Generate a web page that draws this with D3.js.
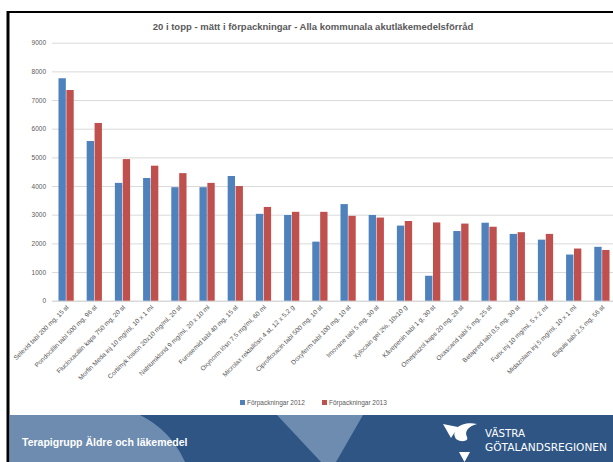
<!DOCTYPE html>
<html>
<head>
<meta charset="utf-8">
<script src="https://cdn.jsdelivr.net/npm/d3@7"></script>
<style>
  body { margin: 0; background: #fff; }
  svg { display: block; }
</style>
</head>
<body>
<svg id="chart" width="613" height="462"></svg>
<script>
// 20 i topp - staplar per läkemedel, 2012 mot 2013

const categories = [
  "Selexid tabl 200 mg, 15 st",
  "Pondocillin tabl 500 mg, 96 st",
  "Flucloxacillin kaps 750 mg, 20 st",
  "Morfin Meda inj 10 mg/ml, 10 x 1 ml",
  "Cortimyk losion 20x10 mg/ml, 20 st",
  "Natriumklorid 9 mg/ml, 20 x 10 ml",
  "Furosemid tabl 40 mg, 15 st",
  "Oxynorm lösn 7,5 mg/ml, 60 ml",
  "Microlax rektallösn 4 st, 12 x 5,2 g",
  "Ciprofloxacin tabl 500 mg, 10 st",
  "Doxyferm tabl 100 mg, 10 st",
  "Imovane tabl 5 mg, 30 st",
  "Xylocain gel 2%, 10x10 g",
  "Kåvepenin tabl 1 g, 30 st",
  "Omeprazol kaps 20 mg, 28 st",
  "Oxascand tabl 5 mg, 25 st",
  "Betapred tabl 0,5 mg, 30 st",
  "Furix inj 10 mg/ml, 5 x 2 ml",
  "Midazolam inj 5 mg/ml, 10 x 1 ml",
  "Eliquis tabl 2,5 mg, 56 st"
];
const values2012 = [7760, 5570, 4110, 4280, 3960, 3960, 4350, 3030, 2990, 2060, 3370, 2990, 2620, 870, 2430, 2720, 2330, 2130, 1610, 1880];
const values2013 = [7350, 6200, 4940, 4710, 4450, 4110, 4000, 3270, 3100, 3100, 2960, 2900, 2780, 2730, 2690, 2580, 2390, 2330, 1820, 1770];
const seriesNames = ["Förpackningar 2012", "Förpackningar 2013"];
const yTicks = [0, 1000, 2000, 3000, 4000, 5000, 6000, 7000, 8000, 9000];

const w = 613, h = 462;
const plot = {left: 52, right: 616, top: 42.7, bottom: 300.7};
const colors = ["#4f81bd", "#c0504d"];
const textColor = "#595959";
const labelFont = "'Liberation Sans Narrow', 'Liberation Sans', sans-serif";

const svg = d3.select("#chart");

// SCALES
const x = d3.scaleBand()
  .domain(categories)
  .range([plot.left, plot.right])
  .paddingInner(0.46)
  .paddingOuter(0.23);

const xSeries = d3.scaleBand()
  .domain(seriesNames)
  .range([0, x.bandwidth()])
  .paddingInner(0.07);

const y = d3.scaleLinear()
  .domain([0, 9000])
  .range([plot.bottom, plot.top]);

// gridlines + y labels
const yAxis = d3.axisLeft(y)
  .tickValues(yTicks)
  .tickSize(-(plot.right - plot.left))
  .tickPadding(6)
  .tickFormat(d3.format("d"));

const gy = svg.append("g")
  .attr("transform", `translate(${plot.left},0)`)
  .call(yAxis);
gy.select(".domain").remove();
gy.selectAll(".tick line")
  .attr("stroke", "#d9d9d9")
  .attr("stroke-width", d => d === 0 ? 1.5 : 1);
gy.selectAll(".tick text")
  .attr("fill", textColor)
  .style("font-family", labelFont)
  .style("font-size", "6.5px");

// BARS
const series = [values2012, values2013];
series.forEach((vals, s) => {
  svg.append("g").selectAll("rect")
    .data(vals)
    .join("rect")
    .attr("x", (d, i) => x(categories[i]) + xSeries(seriesNames[s]))
    .attr("y", d => y(d))
    .attr("width", xSeries.bandwidth())
    .attr("height", d => y(0) - y(d))
    .attr("fill", colors[s]);
});

// x labels, rotated
const xAxis = d3.axisBottom(x).tickSize(0).tickPadding(0);
const gx = svg.append("g")
  .attr("transform", `translate(0,${plot.bottom})`)
  .call(xAxis);
gx.select(".domain").remove();
gx.selectAll(".tick text")
  .attr("fill", "#505050")
  .style("font-family", labelFont)
  .style("font-size", "6.5px")
  .attr("text-anchor", "end")
  .attr("dy", 0)
  .attr("transform", "translate(3,7) rotate(-45)");

// title
svg.append("text")
  .attr("x", 313)
  .attr("y", 30)
  .attr("text-anchor", "middle")
  .attr("fill", textColor)
  .style("font-family", "'Liberation Sans', sans-serif")
  .style("font-size", "9.5px")
  .style("font-weight", "bold")
  .text("20 i topp - mätt i förpackningar - Alla kommunala akutläkemedelsförråd");

// legend
const legend = svg.append("g").attr("transform", "translate(240,405)");
const legX = [0, 82];
seriesNames.forEach((name, i) => {
  const g = legend.append("g").attr("transform", `translate(${legX[i]},0)`);
  g.append("rect").attr("x", 0).attr("y", -5).attr("width", 5).attr("height", 5).attr("fill", colors[i]);
  g.append("text")
    .attr("x", 7).attr("y", 0)
    .attr("fill", textColor)
    .style("font-family", labelFont)
    .style("font-size", "6.5px")
    .text(name);
});

// frame
svg.append("line").attr("x1", 8).attr("x2", 613).attr("y1", 12).attr("y2", 12)
  .attr("stroke", "#000").attr("stroke-width", 2);
svg.append("line").attr("x1", 8).attr("x2", 8).attr("y1", 11).attr("y2", 462)
  .attr("stroke", "#000").attr("stroke-width", 3);

// footer banner
const banner = svg.append("g");
banner.append("rect").attr("x", 9.5).attr("y", 415).attr("width", 604).attr("height", 47).attr("fill", "#2e5584");
banner.append("path")
  .attr("d", "M9.5,415 L140,415 C160,425 175,440 185,462 L9.5,462 Z")
  .attr("fill", "#6d8cb0");
banner.append("path")
  .attr("d", "M277,415 L363,415 L336,462 L321,462 Z")
  .attr("fill", "#6d8cb0");
banner.append("text")
  .attr("x", 22).attr("y", 446)
  .attr("fill", "#fff")
  .style("font-family", "'Liberation Sans', sans-serif")
  .style("font-size", "10.5px")
  .style("font-weight", "bold")
  .text("Terapigrupp Äldre och läkemedel");

// logo
const logo = banner.append("g").attr("fill", "#fff");
logo.append("path").attr("d", "M443,424 L458,427 L451,438 Z");
logo.append("path").attr("d", "M456,439 C450,429 462,421 477,424 C469,426 464,431 467,437 C469,441 462,443 456,439 Z");
logo.append("path").attr("d", "M459,452 L470,452 L464.5,462 Z");
logo.append("text")
  .attr("x", 485).attr("y", 437)
  .style("font-family", "'DejaVu Sans', sans-serif")
  .style("font-size", "10px")
  .attr("textLength", 40)
  .attr("lengthAdjust", "spacingAndGlyphs")
  .text("VÄSTRA");
logo.append("text")
  .attr("x", 485).attr("y", 451)
  .style("font-family", "'DejaVu Sans', sans-serif")
  .style("font-size", "10px")
  .attr("textLength", 122)
  .attr("lengthAdjust", "spacingAndGlyphs")
  .text("GÖTALANDSREGIONEN");
</script>
</body>
</html>
